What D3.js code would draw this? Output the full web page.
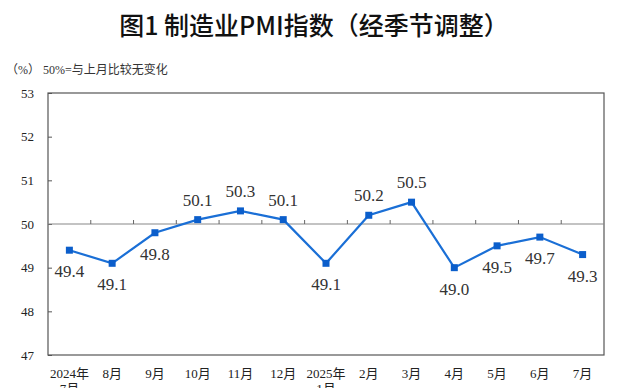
<!DOCTYPE html>
<html>
<head>
<meta charset="utf-8">
<script src="https://cdn.jsdelivr.net/npm/d3@7"></script>
<style>
  body { margin: 0; background: #fff; }
  svg { display: block; }
  .serif { font-family: "Liberation Serif", "Times New Roman", "Noto Sans CJK SC", serif; }
</style>
</head>
<body>
<svg id="chart" width="640" height="388"></svg>
<script>
const months = ["2024年|7月","8月","9月","10月","11月","12月","2025年|1月","2月","3月","4月","5月","6月","7月"];
const pmi = [49.4, 49.1, 49.8, 50.1, 50.3, 50.1, 49.1, 50.2, 50.5, 49.0, 49.5, 49.7, 49.3];
// where the value label sits: 1 = above, -1 = below
const labelSide = [-1, -1, -1, 1, 1, 1, -1, 1, 1, -1, -1, -1, -1];
const yTicks = [47, 48, 49, 50, 51, 52, 53];

const svg = d3.select("#chart");
const margin = {top: 93, right: 36, bottom: 33, left: 48},
      width = 640 - margin.left - margin.right,
      height = 388 - margin.top - margin.bottom;

// title
svg.append("text")
  .attr("x", 314).attr("y", 35)
  .attr("text-anchor", "middle")
  .style("font-family", "'Noto Sans CJK SC',sans-serif")
  .style("font-weight", 500)
  .style("font-size", "25px")
  .attr("fill", "#111")
  .text("图1 制造业PMI指数（经季节调整）");

svg.append("text")
  .attr("class", "serif")
  .attr("x", 6).attr("y", 74)
  .style("font-size", "12px")
  .attr("fill", "#333")
  .text("（%） 50%=与上月比较无变化");

const g = svg.append("g").attr("transform", `translate(${margin.left},${margin.top})`);

const x = d3.scaleBand().domain(months).range([0, width]);
const y = d3.scaleLinear().domain([47, 53]).range([height, 0]);

// frame
g.append("rect")
  .attr("width", width).attr("height", height)
  .attr("fill", "none").attr("stroke", "#555").attr("stroke-width", 1.2);

// y axis, ticks pointing inward
const yAxis = g.append("g")
  .call(d3.axisRight(y).tickValues(yTicks).tickSize(4).tickFormat(""));
yAxis.select(".domain").remove();
yAxis.selectAll("line").attr("stroke", "#555");

g.selectAll("text.ylab")
  .data(yTicks)
  .enter().append("text")
  .attr("class", "ylab serif")
  .attr("x", -14).attr("y", d => y(d))
  .attr("dy", "0.35em")
  .attr("text-anchor", "end")
  .style("font-size", "13px")
  .attr("fill", "#222")
  .text(d => d);

// 50 line with category ticks
const y50 = y(50);
g.append("line")
  .attr("x1", 0).attr("x2", width)
  .attr("y1", y50).attr("y2", y50)
  .attr("stroke", "#888").attr("stroke-width", 1.2);

g.selectAll("line.cat")
  .data(months.slice(1))
  .enter().append("line")
  .attr("class", "cat")
  .attr("x1", d => x(d)).attr("x2", d => x(d))
  .attr("y1", y50).attr("y2", y50 - 4)
  .attr("stroke", "#666");

// x labels (second line runs off the bottom, as in the original)
const xl = g.selectAll("text.xlab")
  .data(months)
  .enter().append("text")
  .attr("class", "xlab serif")
  .attr("x", d => x(d) + x.bandwidth() / 2)
  .attr("y", height + 23)
  .attr("text-anchor", "middle")
  .style("font-size", "13px")
  .attr("fill", "#222");
xl.each(function(d) {
  const parts = d.split("|");
  const t = d3.select(this);
  parts.forEach((p, i) => {
    t.append("tspan")
      .attr("x", x(d) + x.bandwidth() / 2)
      .attr("dy", i === 0 ? 0 : 15)
      .text(p);
  });
});

// line
const cx = (d, i) => x(months[i]) + x.bandwidth() / 2;
const line = d3.line().x(cx).y(d => y(d));
g.append("path")
  .datum(pmi)
  .attr("fill", "none")
  .attr("stroke", "#1a6fd6")
  .attr("stroke-width", 2.2)
  .attr("d", line);

g.selectAll("rect.pt")
  .data(pmi)
  .enter().append("rect")
  .attr("class", "pt")
  .attr("x", (d, i) => cx(d, i) - 3.5)
  .attr("y", d => y(d) - 3.5)
  .attr("width", 7).attr("height", 7)
  .attr("fill", "#0b5ecb");

g.selectAll("text.val")
  .data(pmi)
  .enter().append("text")
  .attr("class", "val serif")
  .attr("x", (d, i) => cx(d, i))
  .attr("y", (d, i) => y(d) + (labelSide[i] > 0 ? -14 : 27))
  .attr("text-anchor", "middle")
  .style("font-size", "17px")
  .attr("fill", "#333")
  .text(d => d.toFixed(1));
</script>
</body>
</html>
